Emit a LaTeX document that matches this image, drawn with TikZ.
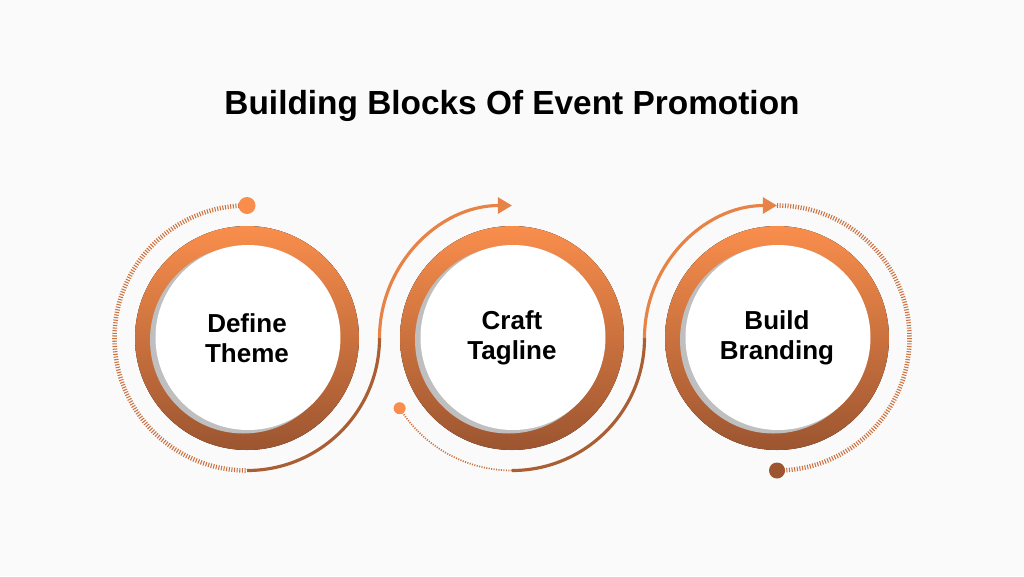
\documentclass[tikz,border=0pt]{standalone}
\usepackage{fontspec}
\setmainfont{Liberation Sans}
\usetikzlibrary{arrows.meta}
\definecolor{ortop}{HTML}{F98E4C}
\definecolor{orbot}{HTML}{9C5530}
\definecolor{ormid}{HTML}{CB7240}
\tikzset{
  ring/.style={top color=ortop,bottom color=orbot,draw=none},
  lbl/.style={font=\bfseries\fontsize{7.4pt}{8.6pt}\selectfont,align=center,text=black},
  dotline/.style={line width=1.3pt,dash pattern=on 0.3pt off 0.45pt},
  thindot/.style={line width=0.5pt,dash pattern=on 0.3pt off 0.4pt},
  solidarc/.style={line width=0.9pt}
}
\begin{document}
\begin{tikzpicture}
\fill[white!98!black] (0,0) rectangle (10.24,5.76);
\useasboundingbox (0,0) rectangle (10.24,5.76);
\def\R{1.325}
\coordinate (c1) at (2.47,2.38);
\coordinate (c2) at (5.12,2.38);
\coordinate (c3) at (7.77,2.38);
\node[font=\bfseries\fontsize{9.5pt}{11pt}\selectfont] (title) at (5.12,4.70) {Building Blocks Of Event Promotion};
\foreach \c/\t [count=\i] in {c1/{Define\\Theme},c2/{Craft\\Tagline},c3/{Build\\Branding}}{
  \fill[ring] (\c) circle (1.12);
  \fill[black!25] ([shift={(-0.035,-0.02)}]\c) circle (0.935);
  \fill[white] ([shift={(0.01,0.005)}]\c) circle (0.925);
  \node[lbl] (t\i) at ([yshift=-0.03]\c) {\t};
}
% circle 1 outer
\draw[dotline,ormid] ([shift={(90:\R)}]c1) arc (90:270:\R);
\fill[ortop] ([shift={(90:\R)}]c1) circle (0.085);
\draw[solidarc,orbot!85!ortop] ([shift={(270:\R)}]c1) arc (270:360:\R);
\draw[solidarc,ortop!80!orbot,-{Triangle[length=4pt,width=4.5pt]}] ([shift={(180:\R)}]c2) arc (180:90:\R);
% circle 2 outer
\draw[thindot,ormid] ([shift={(212:\R)}]c2) arc (212:270:\R);
\fill[ortop] ([shift={(212:\R)}]c2) circle (0.06);
\draw[solidarc,orbot!85!ortop] ([shift={(270:\R)}]c2) arc (270:360:\R);
\draw[solidarc,ortop!80!orbot,-{Triangle[length=4pt,width=4.5pt]}] ([shift={(180:\R)}]c3) arc (180:90:\R);
% circle 3 outer
\draw[dotline,ormid] ([shift={(90:\R)}]c3) arc (90:-90:\R);
\fill[orbot] ([shift={(270:\R)}]c3) circle (0.08);
\end{tikzpicture}
\end{document}
